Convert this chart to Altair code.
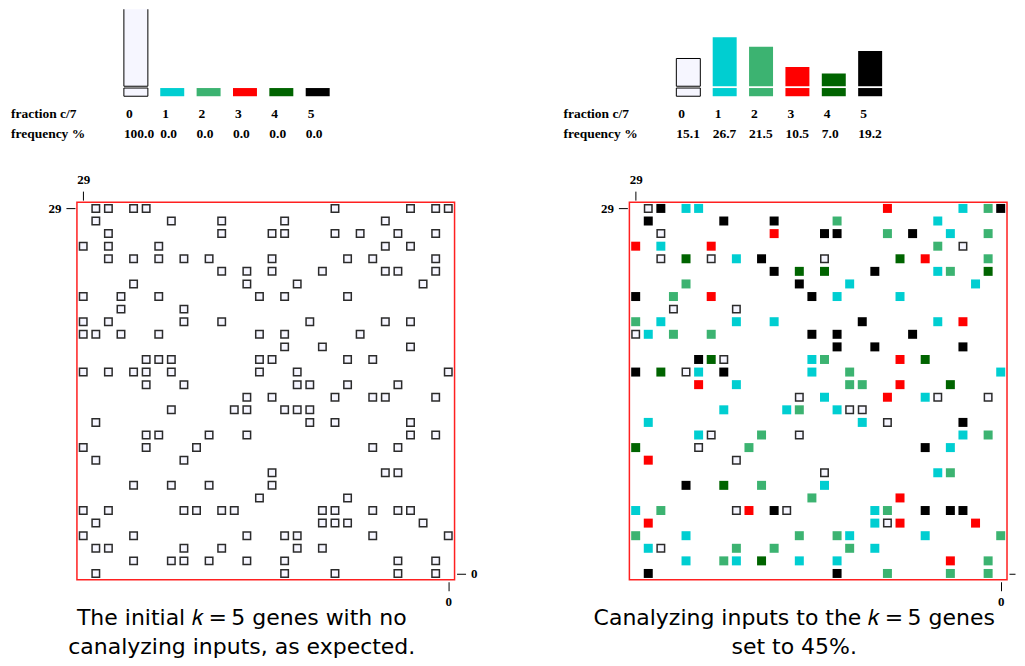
import altair as alt
import pandas as pd

# ---------------- data ----------------
CLASSES = [0, 1, 2, 3, 4, 5]
CLASS_COLORS = ["#f6f6ff", "#00ced1", "#3cb371", "#ff0000", "#006400", "#000000"]
FREQ_LEFT = [100.0, 0.0, 0.0, 0.0, 0.0, 0.0]
FREQ_RIGHT = [15.1, 26.7, 21.5, 10.5, 7.0, 19.2]

# columns (counted from the left edge) of the genes, one list per grid row, top row first
GENE_COLS = [
    [1, 2, 4, 5, 20, 26, 28, 29],
    [1, 7, 11, 16, 24],
    [2, 11, 15, 16, 20, 22, 25, 28],
    [0, 2, 6, 24, 26],
    [2, 4, 6, 8, 10, 15, 21, 23, 28],
    [11, 13, 15, 19, 24, 25, 28],
    [4, 13, 17, 27],
    [0, 3, 6, 14, 16, 21],
    [3, 8],
    [0, 2, 8, 11, 18, 24, 26],
    [0, 1, 3, 6, 14, 16, 22],
    [16, 19, 26],
    [5, 6, 7, 14, 15, 21, 23],
    [0, 2, 4, 5, 7, 14, 17, 29],
    [5, 8, 17, 18, 21, 25],
    [13, 15, 20, 23, 24, 28],
    [7, 12, 13, 16, 17, 18],
    [1, 18, 20, 26],
    [5, 6, 10, 13, 26, 28],
    [0, 5, 9, 23, 25],
    [1, 8],
    [15, 24, 25],
    [4, 7, 10, 15],
    [14, 21],
    [0, 2, 8, 9, 11, 12, 19, 20, 23, 25, 26],
    [1, 19, 20, 21, 27],
    [0, 4, 13, 16, 17, 23, 29],
    [1, 2, 8, 11, 17, 19],
    [4, 7, 8, 10, 13, 16, 25, 28],
    [1, 16, 20, 25, 28],
]

# number of canalyzing inputs c of each gene in the right panel (same order as GENE_COLS)
RIGHT_C = [
    [0, 5, 1, 1, 3, 1, 2, 5],
    [5, 5, 5, 2, 1],
    [0, 3, 5, 5, 2, 5, 1, 2],
    [3, 1, 3, 2, 0],
    [0, 4, 0, 1, 5, 0, 4, 3, 2],
    [5, 4, 4, 5, 1, 2, 4],
    [2, 5, 1, 1],
    [5, 2, 3, 5, 1, 1],
    [0, 0],
    [2, 1, 1, 1, 5, 1, 3],
    [0, 1, 2, 2, 5, 5, 5],
    [5, 5, 5],
    [5, 4, 0, 1, 2, 3, 4],
    [5, 4, 0, 1, 5, 1, 2, 1],
    [3, 1, 2, 2, 3, 4],
    [0, 1, 3, 1, 0, 0],
    [1, 1, 2, 1, 0, 0],
    [1, 1, 0, 5],
    [1, 0, 2, 0, 1, 2],
    [4, 0, 2, 5, 1],
    [3, 0],
    [0, 1, 2],
    [5, 4, 2, 1],
    [2, 3],
    [1, 2, 0, 3, 5, 0, 1, 2, 5, 5, 5],
    [3, 1, 0, 3, 3],
    [2, 1, 2, 2, 1, 1, 2],
    [1, 0, 2, 2, 2, 1],
    [1, 2, 1, 4, 1, 1, 3, 2],
    [5, 5, 2, 2, 2],
]

CAPTION_LEFT = ["The initial \U0001D458\u2009=\u20095 genes with no", "canalyzing inputs, as expected."]
CAPTION_RIGHT = ["Canalyzing inputs to the \U0001D458\u2009=\u20095 genes", "set to 45%."]
ROW_TITLES = ["fraction c/7", "frequency %"]

# ---------------- layout constants ----------------
N = 30
GRID_PX = 378
SERIF = "Liberation Serif"
SANS = "DejaVu Sans"

SLOT_PX = 36.4
FIRST_PX = 47
BAR_PX = 24
TITLE_PX = -66
PX_PER_PCT = 1.84
HDR_H = 130
BASE_PX = 77

X_DOM = [-FIRST_PX / SLOT_PX, (GRID_PX - FIRST_PX) / SLOT_PX]
Y_DOM = [-(HDR_H - BASE_PX) / PX_PER_PCT, BASE_PX / PX_PER_PCT]
BAR_W = BAR_PX / SLOT_PX
SW_TOP = -1.8 / PX_PER_PCT
SW_BOT = -10.0 / PX_PER_PCT
ROW1 = -28.0 / PX_PER_PCT
ROW2 = -48.0 / PX_PER_PCT
TITLE_X = (TITLE_PX - FIRST_PX) / SLOT_PX


def header(freqs):
    df = pd.DataFrame({"cat": CLASSES, "freq": freqs})
    df["x2"] = df["cat"] + BAR_W
    df["zero"] = 0.0
    df["swt"] = SW_TOP
    df["swb"] = SW_BOT
    df["r1"] = ROW1
    df["r2"] = ROW2
    df["col"] = CLASS_COLORS
    df["lab"] = df["cat"].astype(str)
    df["val"] = [f"{v:.1f}" for v in freqs]
    hx = alt.Scale(domain=X_DOM, nice=False, zero=False)
    hy = alt.Scale(domain=Y_DOM, nice=False, zero=False)
    X = alt.X("cat:Q", scale=hx, axis=None)
    col = alt.Color("col:N", scale=None)
    base = alt.Chart(df)
    bars_c = base.transform_filter("datum.cat > 0").mark_rect(clip=True).encode(
        x=X, x2="x2:Q", y=alt.Y("zero:Q", scale=hy, axis=None), y2="freq:Q", color=col)
    bars_w = base.transform_filter("datum.cat == 0").mark_rect(
        clip=True, stroke="black", strokeWidth=1).encode(
        x=X, x2="x2:Q", y=alt.Y("zero:Q", scale=hy, axis=None), y2="freq:Q", color=col)
    sw_c = base.transform_filter("datum.cat > 0").mark_rect().encode(
        x=X, x2="x2:Q", y=alt.Y("swt:Q", scale=hy, axis=None), y2="swb:Q", color=col)
    sw_w = base.transform_filter("datum.cat == 0").mark_rect(
        stroke="black", strokeWidth=1).encode(
        x=X, x2="x2:Q", y=alt.Y("swt:Q", scale=hy, axis=None), y2="swb:Q", color=col)
    tstyle = dict(align="left", baseline="middle", font=SERIF, fontWeight="bold",
                  fontSize=13.5, color="black")
    labs = base.mark_text(dx=2, **tstyle).encode(
        x=X, y=alt.Y("r1:Q", scale=hy, axis=None), text="lab:N")
    vals = base.mark_text(**tstyle).encode(
        x=X, y=alt.Y("r2:Q", scale=hy, axis=None), text="val:N")
    tdf = pd.DataFrame({"t": ROW_TITLES, "row": [ROW1, ROW2], "tx": [TITLE_X, TITLE_X]})
    titles = alt.Chart(tdf).mark_text(**tstyle).encode(
        x=alt.X("tx:Q", scale=hx, axis=None), y=alt.Y("row:Q", scale=hy, axis=None),
        text="t:N")
    return alt.layer(bars_w, bars_c, sw_w, sw_c, labs, vals, titles).properties(
        width=GRID_PX, height=HDR_H, view=alt.ViewBackground(stroke="transparent"))


AX = dict(domain=False, grid=False, ticks=True, tickColor="black",
          tickWidth=1, offset=2, labelFont=SERIF, labelFontWeight="bold",
          labelFontSize=13, labelColor="black", labelPadding=5, title=None)


def grid(classes_rows, caption, outer_labels):
    recs = []
    for r, cols in enumerate(GENE_COLS):
        for j, c in enumerate(cols):
            k = classes_rows[r][j] if classes_rows else 0
            recs.append({"gx": N - 1 - c, "gy": N - 1 - r, "c": k,
                         "col": CLASS_COLORS[k]})
    df = pd.DataFrame(recs)
    xs = alt.Scale(domain=[-0.5, N - 0.5], reverse=True, nice=False, zero=False)
    ys = alt.Scale(domain=[-0.5, N - 0.5], nice=False, zero=False)
    base = alt.Chart(df)
    ax_a = base.mark_point(opacity=0).encode(
        x=alt.X("gx:Q", scale=xs,
                axis=alt.Axis(orient="top", values=[N - 1], tickSize=9, **AX)),
        y=alt.Y("gy:Q", scale=ys,
                axis=alt.Axis(orient="left", values=[N - 1], tickSize=9, **AX)))
    ax_b = base.mark_point(opacity=0).encode(
        x=alt.X("gx:Q", scale=xs,
                axis=alt.Axis(orient="bottom", values=[0], tickSize=9, **AX)),
        y=alt.Y("gy:Q", scale=ys,
                axis=alt.Axis(orient="right", values=[0], labels=outer_labels,
                              tickSize=9 if outer_labels else 6, **AX)))
    colored = base.transform_filter("datum.c > 0").mark_square(
        size=81, filled=True, opacity=1).encode(
        x=alt.X("gx:Q", scale=xs, axis=None), y=alt.Y("gy:Q", scale=ys, axis=None),
        color=alt.Color("col:N", scale=None))
    whites = base.transform_filter("datum.c == 0").mark_square(
        size=56, filled=True, opacity=1, fill=CLASS_COLORS[0], stroke="#2b2b2b",
        strokeWidth=1.5).encode(
        x=alt.X("gx:Q", scale=xs, axis=None), y=alt.Y("gy:Q", scale=ys, axis=None))
    return alt.layer(ax_a, ax_b, colored, whites).resolve_axis(
        x="independent", y="independent").properties(
        width=GRID_PX, height=GRID_PX,
        title=alt.TitleParams(text=caption, orient="bottom", anchor="middle",
                              font=SANS, fontSize=22, fontWeight="normal",
                              color="black", lineHeight=29, dx=-24, offset=-1))


left = alt.vconcat(header(FREQ_LEFT), grid(None, CAPTION_LEFT, True), spacing=30)
right = alt.vconcat(header(FREQ_RIGHT), grid(RIGHT_C, CAPTION_RIGHT, False), spacing=30)

chart = alt.hconcat(left, right, spacing=84).properties(
    padding={"left": 2, "top": 0, "right": 0, "bottom": 0}
).configure_view(stroke="#ff2020", strokeWidth=1.5)

chart.save("out.html", embed_options={"renderer": "svg", "actions": False})
